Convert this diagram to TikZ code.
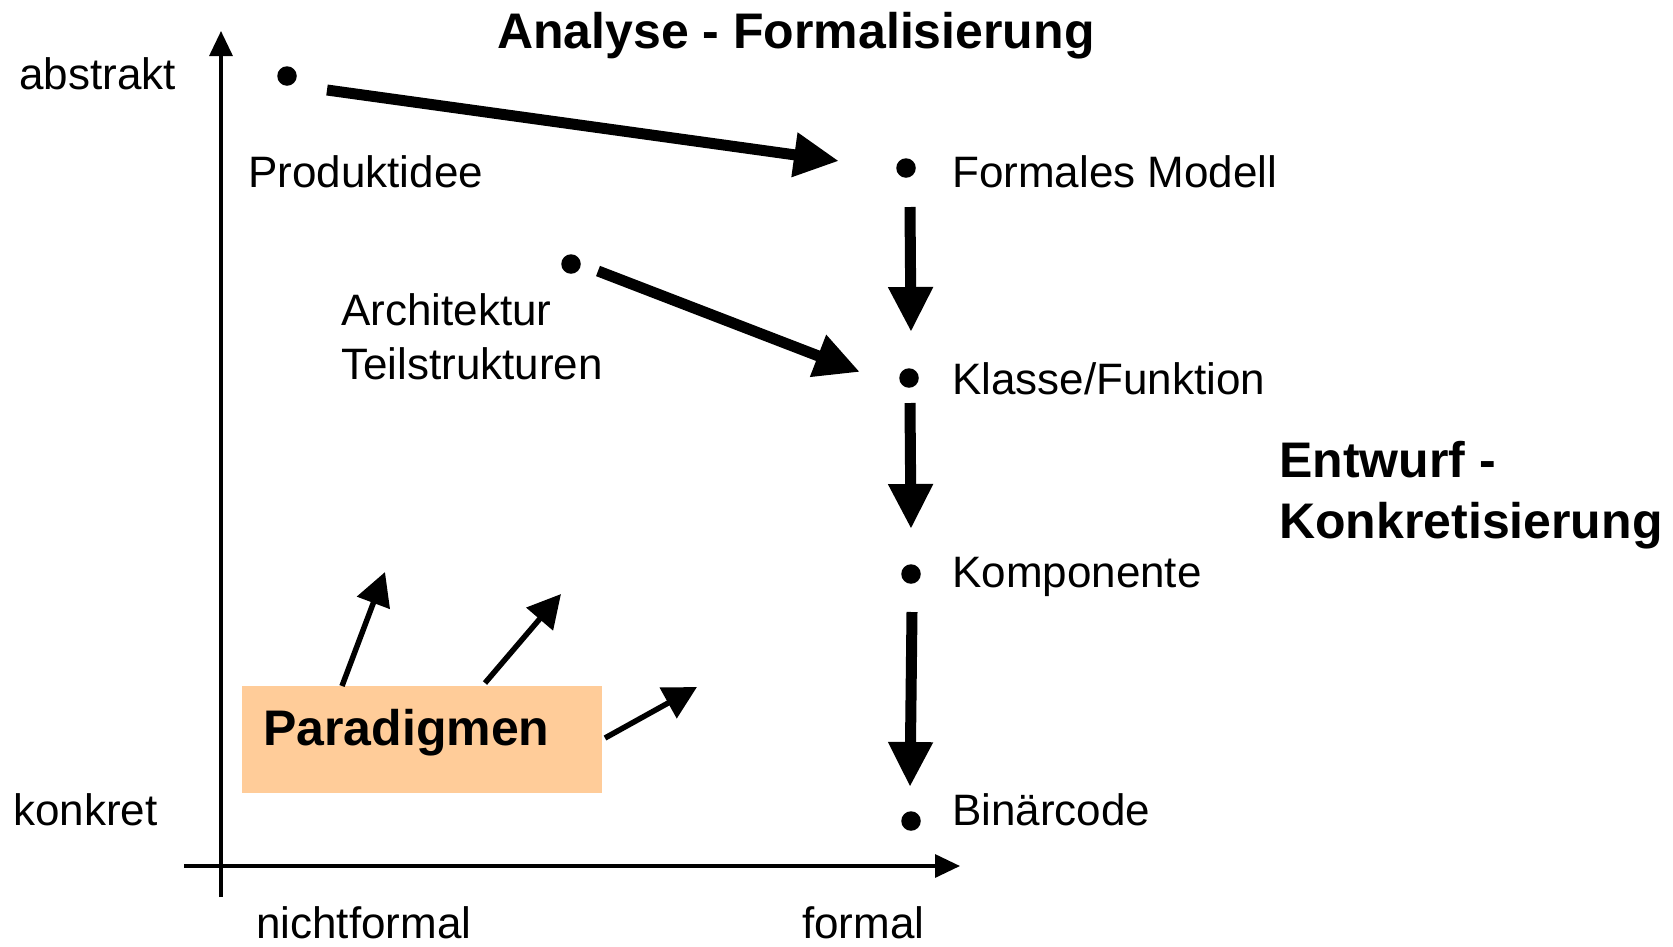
\documentclass[tikz,border=0pt]{standalone}
\usepackage{fontspec}
\setmainfont{Liberation Sans}
\usetikzlibrary{arrows.meta}
\definecolor{peach}{RGB}{255,204,153}
\begin{document}
\begin{tikzpicture}[x=1pt,y=-1pt,
  lbl/.style={font=\fontsize{44}{52}\selectfont, inner sep=0pt, anchor=base west},
  blbl/.style={font=\fontsize{50}{58}\selectfont\bfseries, inner sep=0pt, anchor=base west},
  dotnode/.style={circle, fill=black, minimum size=19.5pt, inner sep=0pt},
  bigarrow/.style={line width=11pt, -{Triangle[length=45pt,width=42pt]}},
  smallarrow/.style={line width=5.5pt, -{Triangle[length=33pt,width=34pt]}},
  axisline/.style={line width=3.3pt, -{Triangle[length=25pt,width=23pt]}}]
\useasboundingbox (0,0) rectangle (1673,946);
% axes
\coordinate (yb) at (221,897);
\coordinate (yt) at (221,31);
\coordinate (xl) at (184,866);
\coordinate (xr) at (960,866);
\draw[axisline] (yb) -- (yt);
\draw[axisline] (xl) -- (xr);
% axis labels
\node[lbl] (abstrakt) at (19,89) {abstrakt};
\node[lbl] (konkret) at (13,825) {konkret};
\node[lbl] (nichtformal) at (256,938) {nichtformal};
\node[lbl] (formal) at (802,938) {formal};
% titles
\node[blbl] (analyse) at (497,48) {Analyse - Formalisierung};
\node[blbl] (entwurf) at (1279,477) {Entwurf -};
\node[blbl] (konkr) at (1279,538) {Konkretisierung};
% dots
\node[dotnode] (dProd) at (287,76) {};
\node[dotnode] (dForm) at (906,168) {};
\node[dotnode] (dArch) at (571,264) {};
\node[dotnode] (dKlas) at (909,378) {};
\node[dotnode] (dKomp) at (911,574) {};
\node[dotnode] (dBin) at (911,821) {};
% labels
\node[lbl] (tProd) at (248,187) {Produktidee};
\node[lbl] (tForm) at (952,187) {Formales Modell};
\node[lbl] (tArch1) at (341,325) {Architektur};
\node[lbl] (tArch2) at (341,379) {Teilstrukturen};
\node[lbl] (tKlas) at (952,394) {Klasse/Funktion};
\node[lbl] (tKomp) at (952,587) {Komponente};
\node[lbl] (tBin) at (952,825) {Binärcode};
% big arrows
\coordinate (a1s) at (327,90);
\coordinate (a1e) at (839,161);
\coordinate (a2s) at (598,271);
\coordinate (a2e) at (860,372);
\coordinate (a3s) at (910,207);
\coordinate (a3e) at (911,332);
\coordinate (a4s) at (910,403);
\coordinate (a4e) at (911,529);
\coordinate (a5s) at (912,612);
\coordinate (a5e) at (910,787);
\draw[bigarrow] (a1s) -- (a1e);
\draw[bigarrow] (a2s) -- (a2e);
\draw[bigarrow] (a3s) -- (a3e);
\draw[bigarrow] (a4s) -- (a4e);
\draw[bigarrow] (a5s) -- (a5e);
% Paradigmen box
\node[fill=peach, minimum width=360pt, minimum height=107pt, inner sep=0pt, anchor=north west] (para) at (242,686) {};
\node[blbl] (paraText) at (263,745) {Paradigmen};
% small arrows
\coordinate (p1s) at (342,686);
\coordinate (p1e) at (385,572);
\coordinate (p2s) at (485,683);
\coordinate (p2e) at (561,594);
\coordinate (p3s) at (605,738);
\coordinate (p3e) at (697,687);
\draw[smallarrow] (p1s) -- (p1e);
\draw[smallarrow] (p2s) -- (p2e);
\draw[smallarrow] (p3s) -- (p3e);
\end{tikzpicture}
\end{document}
